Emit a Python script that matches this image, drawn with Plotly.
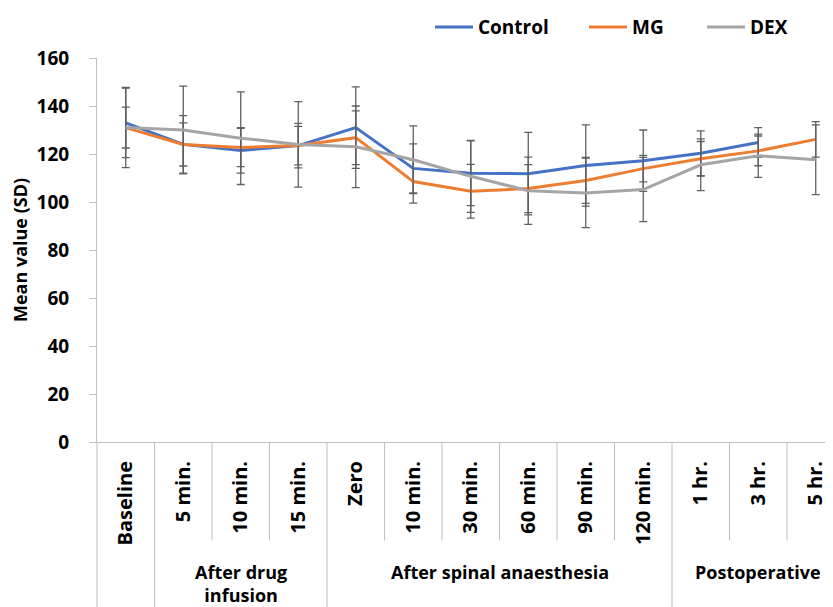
import plotly.graph_objects as go

labels = ["Baseline", "5 min.", "10 min.", "15 min.", "Zero", "10 min.", "30 min.",
          "60 min.", "90 min.", "120 min.", "1 hr.", "3 hr.", "5 hr."]
groups = [("", 0, 0), ("After drug<br>infusion", 1, 3),
          ("After spinal anaesthesia", 4, 9), ("Postoperative", 10, 12)]

control = [133, 124, 121.5, 123.5, 131, 114, 112, 111.8, 115.2, 117.2, 120.3, 124.8, None]
control_sd = [14.5, 9, 9.5, 9.3, 17, 10.2, 13.5, 17.2, 16.9, 12.8, 9.3, 6.2, None]
mg = [131, 124, 122.7, 123.5, 126.8, 108.5, 104.5, 105.6, 109, 113.9, 118, 121.3, 126.1]
mg_sd = [16.7, 12, 8, 8, 11.2, 9, 11.2, 10, 9.6, 5.5, 7.2, 6.2, 7.4]
dex = [131, 130, 126.6, 124, 123, 117.6, 110.7, 104.7, 103.8, 105.2, 115.5, 119.3, 117.6]
dex_sd = [8.5, 18.3, 19.3, 17.8, 17, 14.1, 15, 14, 14.5, 13.4, 10.8, 9, 14.5]

series_names = ["Control", "MG", "DEX"]
series_vals = [control, mg, dex]
series_sds = [control_sd, mg_sd, dex_sd]
series_cols = ["#4472C4", "#ED7D31", "#A5A5A5"]

FONT = "Open Sans"
BLACK = "#000000"
x = list(range(len(labels)))

# page offset (browser body margin)
OFF = 8
W, H = 833 - OFF, 607 - OFF
ml, mr, mt = 97 - OFF, 0, 56 - OFF
ph = 386
mb = H - mt - ph
pw = W - ml - mr

def py(win_y):
    return (mt + ph - (win_y - OFF)) / ph

def px(win_x):
    return (win_x - OFF - ml) / pw

legend_ids = ["legend", "legend2", "legend3"]
legend_line_start = [435, 589, 707]

fig = go.Figure()
for name, vals, sds, col, lid in zip(series_names, series_vals, series_sds,
                                     series_cols, legend_ids):
    fig.add_trace(go.Scatter(
        x=x, y=vals, name=name, mode="lines", legend=lid,
        line=dict(color=col, width=3),
        error_y=dict(type="data", array=sds, visible=True,
                     color="#606060", thickness=1.3, width=4),
    ))

axis_col = "#BFBFBF"
shapes = []
group_starts = {g[1] for g in groups}
for i in range(1, len(labels)):
    bottom = py(620) if i in group_starts else py(541)
    shapes.append(dict(type="line", xref="x", yref="paper", x0=i - 0.5, x1=i - 0.5,
                       y0=0, y1=bottom, line=dict(color=axis_col, width=1)))
shapes.append(dict(type="line", xref="paper", yref="paper", x0=0, x1=0,
                   y0=0, y1=py(620), line=dict(color=axis_col, width=1)))

annotations = []
for text, a, b in groups:
    if not text:
        continue
    annotations.append(dict(x=(a + b) / 2, xref="x", y=py(559), yref="paper",
                            yanchor="top", xanchor="center", showarrow=False,
                            text=text,
                            font=dict(family=FONT, size=18, color=BLACK, weight="bold")))

legend_common = dict(orientation="h", xanchor="left", yanchor="middle",
                     y=py(25), bgcolor="rgba(0,0,0,0)", borderwidth=0,
                     itemwidth=38,
                     font=dict(family=FONT, size=19, color=BLACK, weight="bold"))
legends = {}
for lid, ls in zip(legend_ids, legend_line_start):
    legends[lid] = dict(legend_common, x=px(ls - 5))

fig.update_layout(
    width=W, height=H,
    margin=dict(l=ml, r=mr, t=mt, b=mb, pad=0),
    paper_bgcolor="white", plot_bgcolor="white",
    font=dict(family=FONT, color=BLACK),
    showlegend=True,
    xaxis=dict(range=[-0.5, 12.3], tickmode="array", tickvals=x, ticktext=labels,
               tickangle=-90, showgrid=False, zeroline=False,
               showline=True, linecolor=axis_col, linewidth=1,
               ticks="", ticklabelstandoff=10,
               tickfont=dict(family=FONT, size=20, color=BLACK, weight="bold")),
    yaxis=dict(range=[0, 160], dtick=20, showgrid=False, zeroline=False,
               showline=True, linecolor=axis_col, linewidth=1,
               ticks="outside", ticklen=7, tickcolor=axis_col,
               ticklabelstandoff=16,
               tickfont=dict(family=FONT, size=19, color=BLACK, weight="bold"),
               title=dict(text="Mean value (SD)", standoff=14,
                          font=dict(family=FONT, size=18, color=BLACK, weight="bold"))),
    shapes=shapes,
    annotations=annotations,
    **legends,
)

fig.write_html("out.html")
